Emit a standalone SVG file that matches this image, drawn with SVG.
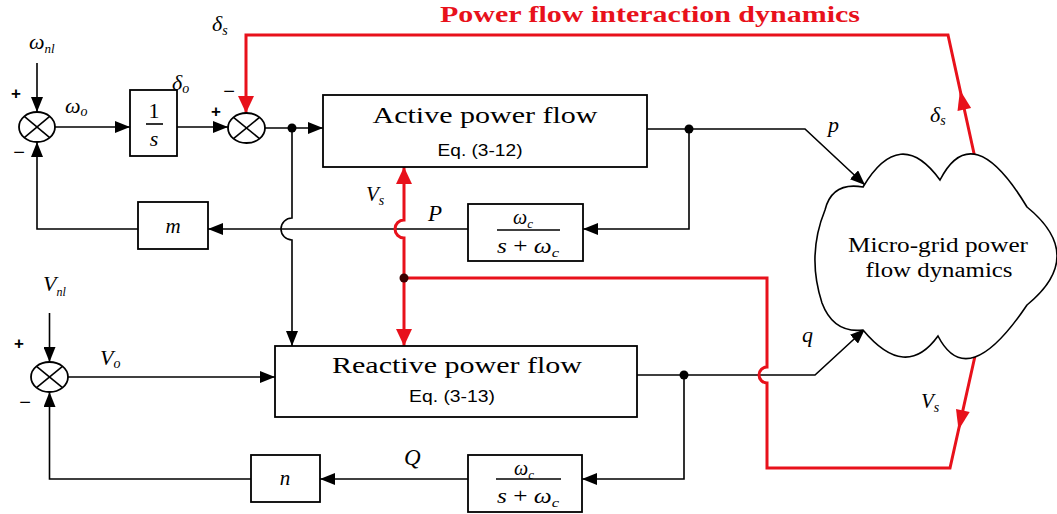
<svg xmlns="http://www.w3.org/2000/svg" width="1057" height="514" viewBox="0 0 1057 514">
<style>
.ln{fill:none;stroke:#000;stroke-width:1.6}
.rd{fill:none;stroke:#e8111b;stroke-width:3}
.bx{fill:#fff;stroke:#000;stroke-width:1.8}
.sm{fill:#fff;stroke:#000;stroke-width:1.8}
.x{stroke:#000;stroke-width:1.6}
.m{font-family:"Liberation Serif","Times New Roman",serif;font-style:italic;fill:#000}
.t{font-family:"Liberation Serif","Times New Roman",serif;fill:#000}
.s{font-family:"Liberation Sans",Arial,sans-serif;fill:#000}
.sg{font-family:"Liberation Sans",Arial,sans-serif;fill:#000;font-weight:bold;font-size:17px;text-anchor:middle}
</style>
<defs>
<marker id="ab" markerUnits="userSpaceOnUse" markerWidth="16" markerHeight="12" refX="15" refY="6" orient="auto"><path d="M0,0 L15,6 L0,12 z" fill="#000"/></marker>
<marker id="ar" markerUnits="userSpaceOnUse" markerWidth="18" markerHeight="18" refX="17" refY="8" orient="auto"><path d="M0,0 L17,8 L0,16 z" fill="#e8111b"/></marker>
</defs>

<text x="650" y="22" text-anchor="middle" textLength="420" lengthAdjust="spacingAndGlyphs" style="font-family:'Liberation Serif','Times New Roman',serif;font-weight:bold;font-size:24px;fill:#e8111b">Power flow interaction dynamics</text>

<g id="connectors">
  <!-- omega_nl input -->
  <line class="ln" x1="37" y1="63" x2="37" y2="112" marker-end="url(#ab)"/>
  <line class="ln" x1="55" y1="127" x2="130" y2="127" marker-end="url(#ab)"/>
  <line class="ln" x1="177" y1="127" x2="228" y2="127" marker-end="url(#ab)"/>
  <line class="ln" x1="265" y1="128" x2="323" y2="128" marker-end="url(#ab)"/>
  <path class="ln" d="M292,128 V218 A11,11 0 0 0 292,240 V346" marker-end="url(#ab)"/>
  <path class="ln" d="M647,129 H805 L865,185" marker-end="url(#ab)"/>
  <path class="ln" d="M689,129 V229 H583" marker-end="url(#ab)"/>
  <line class="ln" x1="468" y1="229" x2="208" y2="229" marker-end="url(#ab)"/>
  <path class="ln" d="M138,229 H37 V142" marker-end="url(#ab)"/>
  <!-- reactive loop -->
  <line class="ln" x1="49.5" y1="313" x2="49.5" y2="362" marker-end="url(#ab)"/>
  <line class="ln" x1="68" y1="377" x2="275" y2="377" marker-end="url(#ab)"/>
  <path class="ln" d="M637,375 H815 L865,329" marker-end="url(#ab)"/>
  <path class="ln" d="M684,375 V479 H582" marker-end="url(#ab)"/>
  <line class="ln" x1="468" y1="479" x2="320" y2="479" marker-end="url(#ab)"/>
  <path class="ln" d="M251,479 H49.5 V392" marker-end="url(#ab)"/>
  <!-- red interaction paths -->
  <path class="rd" d="M975,158 L948,35 H246 V113" marker-end="url(#ar)"/>
  <polygon points="960,90 971.1,108 957.5,111" fill="#e8111b"/>
  <path class="rd" d="M975,356 L950,468 H767 V383 A8,8 0 0 1 767,367 V278 H404"/>
  <polygon points="958.5,430 969.7,412 956,409" fill="#e8111b"/>
  <path class="rd" d="M404,278 V238 A9,9 0 0 1 404,220 V167" marker-end="url(#ar)"/>
  <line class="rd" x1="404" y1="278" x2="404" y2="346" marker-end="url(#ar)"/>
  <circle cx="292" cy="128" r="4.5" fill="#000"/>
  <circle cx="689" cy="129" r="4.5" fill="#000"/>
  <circle cx="684" cy="375" r="4.5" fill="#000"/>
  <circle cx="404" cy="278" r="4.5" fill="#3a0000"/>
</g>

<g id="sum1">
  <ellipse class="sm" cx="37" cy="127" rx="18" ry="15"/>
  <line class="x" x1="24.3" y1="116.4" x2="49.7" y2="137.6"/>
  <line class="x" x1="24.3" y1="137.6" x2="49.7" y2="116.4"/>
  <text class="sg" x="16" y="99">+</text>
  <text class="sg" x="19" y="159" style="font-weight:normal;font-size:20px">−</text>
</g>
<g id="integrator">
  <rect class="bx" x="130" y="90" width="47" height="66"/>
  <text class="t" x="154" y="118" text-anchor="middle" font-size="22">1</text>
  <line class="x" x1="146" y1="124" x2="163" y2="124"/>
  <text class="m" x="154" y="146" text-anchor="middle" font-size="22">s</text>
</g>
<g id="sum2">
  <ellipse class="sm" cx="246.5" cy="128" rx="18.5" ry="15"/>
  <line class="x" x1="233.5" y1="117.4" x2="259.5" y2="138.6"/>
  <line class="x" x1="233.5" y1="138.6" x2="259.5" y2="117.4"/>
  <text class="sg" x="216" y="117">+</text>
  <text class="sg" x="229" y="98" style="font-weight:normal;font-size:20px">−</text>
</g>
<g id="active">
  <rect class="bx" x="323" y="95" width="324" height="72"/>
  <text class="t" x="485" y="123" text-anchor="middle" font-size="24" textLength="225" lengthAdjust="spacingAndGlyphs">Active power flow</text>
  <text class="s" x="480" y="156" text-anchor="middle" font-size="17" textLength="85" lengthAdjust="spacingAndGlyphs">Eq. (3-12)</text>
</g>
<g id="filterP">
  <rect class="bx" x="468" y="204" width="115" height="57"/>
  <text class="m" x="513" y="224" font-size="20">ω<tspan font-size="13" dy="4">c</tspan></text>
  <line class="x" x1="497" y1="230" x2="560" y2="230"/>
  <text class="m" x="497" y="253" font-size="20" textLength="62" lengthAdjust="spacingAndGlyphs">s<tspan font-style="normal"> + </tspan>ω<tspan font-size="13" dy="4">c</tspan></text>
</g>
<g id="gain-m">
  <rect class="bx" x="138" y="202" width="70" height="47"/>
  <text class="m" x="173" y="233" text-anchor="middle" font-size="21">m</text>
</g>
<g id="sum3">
  <ellipse class="sm" cx="49.5" cy="377" rx="18.5" ry="15"/>
  <line class="x" x1="36.5" y1="366.4" x2="62.5" y2="387.6"/>
  <line class="x" x1="36.5" y1="387.6" x2="62.5" y2="366.4"/>
  <text class="sg" x="19" y="349">+</text>
  <text class="sg" x="25" y="409" style="font-weight:normal;font-size:20px">−</text>
</g>
<g id="reactive">
  <rect class="bx" x="275" y="346" width="362" height="71"/>
  <text class="t" x="457" y="373" text-anchor="middle" font-size="24" textLength="250" lengthAdjust="spacingAndGlyphs">Reactive power flow</text>
  <text class="s" x="452" y="402" text-anchor="middle" font-size="17" textLength="86" lengthAdjust="spacingAndGlyphs">Eq. (3-13)</text>
</g>
<g id="filterQ">
  <rect class="bx" x="468" y="455" width="114" height="57"/>
  <text class="m" x="514" y="475" font-size="20">ω<tspan font-size="13" dy="4">c</tspan></text>
  <line class="x" x1="496" y1="479" x2="561" y2="479"/>
  <text class="m" x="497" y="503" font-size="20" textLength="62" lengthAdjust="spacingAndGlyphs">s<tspan font-style="normal"> + </tspan>ω<tspan font-size="13" dy="4">c</tspan></text>
</g>
<g id="gain-n">
  <rect class="bx" x="251" y="455" width="69" height="47"/>
  <text class="m" x="285" y="485" text-anchor="middle" font-size="21">n</text>
</g>
<g id="cloud">
  <path d="M863,187 Q900,125 940,180 Q972.5,116.5 1027,207 Q1087,256 1027,305 Q967.5,393.5 938,336 Q905.5,381 863,330 Q833.5,333.5 822,303 Q806.5,255.5 825,210 Q832,181.5 863,187 Z" fill="#fff" stroke="#000" stroke-width="1.6"/>
  <text class="t" x="938" y="252" text-anchor="middle" font-size="20" textLength="180" lengthAdjust="spacingAndGlyphs">Micro-grid power</text>
  <text class="t" x="939" y="277" text-anchor="middle" font-size="20" textLength="147" lengthAdjust="spacingAndGlyphs">flow dynamics</text>
</g>

<g id="labels">
  <text class="m" x="29" y="49" font-size="22">ω<tspan font-size="13" dy="4">nl</tspan></text>
  <text class="m" x="65" y="113" font-size="22">ω<tspan font-size="14" dy="3">o</tspan></text>
  <text class="m" x="172" y="90" font-size="22">δ<tspan font-size="14" dy="3">o</tspan></text>
  <text class="m" x="212" y="31" font-size="22">δ<tspan font-size="14" dy="4">s</tspan></text>
  <text class="m" x="366" y="201" font-size="21">V<tspan font-size="14" dy="4">s</tspan></text>
  <text class="m" x="428" y="221" font-size="23">P</text>
  <text class="m" x="828" y="132" font-size="22">p</text>
  <text class="m" x="930" y="122" font-size="22">δ<tspan font-size="14" dy="3">s</tspan></text>
  <text class="m" x="43" y="291" font-size="22">V<tspan font-size="12" dy="5">nl</tspan></text>
  <text class="m" x="100" y="365" font-size="22">V<tspan font-size="14" dy="3">o</tspan></text>
  <text class="m" x="802" y="342" font-size="22">q</text>
  <text class="m" x="921" y="408" font-size="21">V<tspan font-size="14" dy="4">s</tspan></text>
  <text class="m" x="404" y="465" font-size="23">Q</text>
</g>
</svg>
